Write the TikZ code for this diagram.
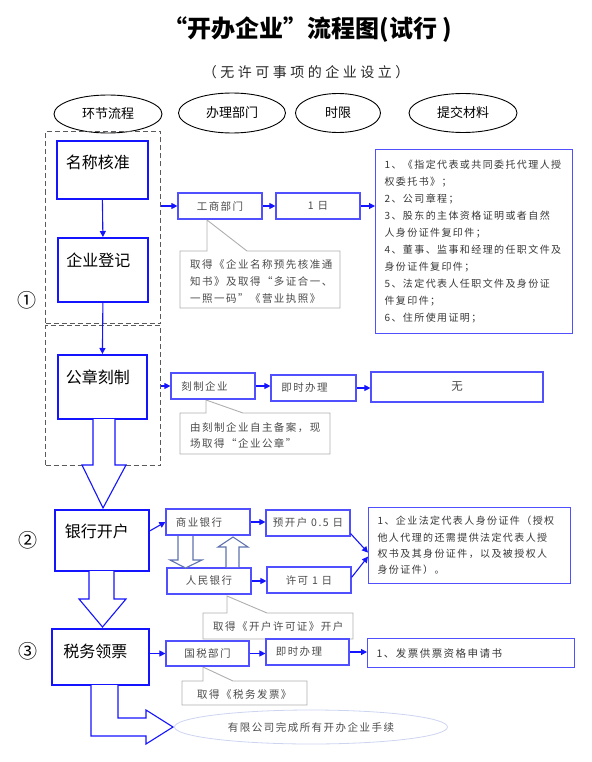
\documentclass[tikz,border=0pt]{standalone}
\usepackage{fontspec}
\setmainfont{Noto Sans CJK SC}
\newfontfamily\cjk{Noto Sans CJK SC}
\newfontfamily\cjksp[LetterSpace=14]{Noto Sans CJK SC}
\newfontfamily\cjksub[LetterSpace=25]{Noto Sans CJK SC}
\usetikzlibrary{arrows.meta,shapes.geometric,calc}
\definecolor{mainblue}{RGB}{20,20,255}
\definecolor{lightblue}{RGB}{80,80,255}
\definecolor{txtgray}{RGB}{75,75,75}
\definecolor{matgray}{RGB}{55,55,55}
\definecolor{callgray}{RGB}{175,175,175}
\definecolor{dashgray}{RGB}{90,90,90}
\definecolor{steel}{RGB}{95,115,175}
\definecolor{paleblue}{RGB}{205,212,240}
\begin{document}
\begin{tikzpicture}[x=1pt,y=-1pt,
  hdr/.style={ellipse, draw=black, line width=0.9pt, inner sep=0pt, font=\fontsize{13}{13}\selectfont\cjk},
  mainbox/.style={draw=mainblue, line width=1.8pt, anchor=north west, inner xsep=0pt, inner ysep=0pt, font=\fontsize{16}{16}\selectfont\cjk},
  smallbox/.style={draw=lightblue, line width=1.2pt, inner sep=0pt, font=\fontsize{10.5}{10.5}\selectfont\cjksp, text=txtgray},
  matbox/.style={draw=lightblue, line width=1.2pt, anchor=north west, align=left, inner ysep=0pt, inner xsep=9pt, text=matgray},
  dashbox/.style={draw=dashgray, dash pattern=on 5pt off 3pt, line width=1pt, anchor=north west, inner sep=0pt},
  arr/.style={draw=mainblue, line width=1.1pt, -{Triangle[length=6pt,width=6pt]}},
  blockarr/.style={draw=mainblue, line width=1.1pt, fill=white},
  steelarr/.style={draw=steel, line width=1.1pt, fill=white},
  callbox/.style={draw=callgray, line width=0.9pt, fill=white},
  calltext/.style={anchor=north west, align=left, inner sep=0pt, font=\fontsize{10.5}{17}\selectfont\cjksp, text=txtgray},
  circnum/.style={font=\fontsize{19}{19}\selectfont\cjk}
]
\useasboundingbox (0,0) rectangle (591,762);

% titles
\node[font=\fontsize{24}{24}\selectfont\bfseries\cjk] (title) at (308,30) {“开办企业”流程图(试行 )};
\node[font=\fontsize{14}{14}\selectfont\cjksub, text=black!85] (sub) at (306,72) {（无许可事项的企业设立）};

% header ellipses
\node[hdr, minimum width=108pt, minimum height=38pt] (h1) at (108,114) {环节流程};
\node[hdr, minimum width=107pt, minimum height=40pt] (h2) at (232,113) {办理部门};
\node[hdr, minimum width=85pt, minimum height=39pt] (h3) at (338,113) {时限};
\node[hdr, minimum width=108pt, minimum height=39pt] (h4) at (463,113) {提交材料};

% dashed groups
\node[dashbox, minimum width=115pt, minimum height=192pt] (d1) at (45,131) {};
\node[dashbox, minimum width=115pt, minimum height=140pt] (d2) at (45,325) {};

% main boxes
\node[mainbox, minimum width=91pt, text height=28pt, text depth=30pt] (m1) at (56,140) {\hspace*{-9pt}名称核准};
\node[mainbox, minimum width=90pt, text height=29pt, text depth=35pt] (m2) at (57,237) {\hspace*{-9pt}企业登记};
\node[mainbox, minimum width=89pt, text height=29pt, text depth=35pt] (m3) at (57,354) {\hspace*{-9pt}公章刻制};
\node[mainbox, minimum width=94pt, text height=28pt, text depth=33pt] (m4) at (54,509) {\hspace*{-10pt}银行开户};
\node[mainbox, minimum width=97pt, text height=29pt, text depth=27pt] (m5) at (51,628) {\hspace*{-10pt}税务领票};

% circled numbers
\node[circnum] (n1) at (27,300) {①};
\node[circnum] (n2) at (28,540) {②};
\node[circnum] (n3) at (28,651) {③};

% callouts
\draw[callbox] (180,251) -- (207,251) -- (207,220) -- (247,251) -- (340,251) -- (340,308) -- (180,308) -- cycle;
\node[calltext] (t1) at (190,259) {取得《企业名称预先核准通\\知书》及取得“多证合一、\\一照一码”《营业执照》};
\draw[callbox] (180,413) -- (206,413) -- (206,400) -- (243,413) -- (330,413) -- (330,454) -- (180,454) -- cycle;
\node[calltext, font=\fontsize{10.5}{16}\selectfont\cjksp] (t2) at (190,422) {由刻制企业自主备案，现\\场取得“企业公章”};
\draw[callbox] (203,613) -- (227,613) -- (227,596) -- (267,613) -- (353,613) -- (353,639) -- (203,639) -- cycle;
\node[calltext] (t3) at (213,621) {取得《开户许可证》开户};
\draw[callbox] (182,681) -- (203,681) -- (203,667) -- (233,681) -- (307,681) -- (307,705) -- (182,705) -- cycle;
\node[calltext] (t4) at (197,689) {取得《税务发票》};

% small boxes
\node[smallbox, minimum width=84pt, minimum height=26pt] (gs) at (220,206) {工商部门};
\node[smallbox, minimum width=84pt, minimum height=26pt] (r1) at (318,206) {1 日};
\node[matbox, minimum width=197pt, minimum height=184pt, text width=179pt, font=\fontsize{10}{16.9}\selectfont\cjksp] (mat1) at (375,149) {1、《指定代表或共同委托代理人授\\权委托书》；\\2、公司章程；\\3、股东的主体资格证明或者自然\\人身份证件复印件；\\4、董事、监事和经理的任职文件及\\身份证件复印件；\\5、法定代表人任职文件及身份证\\件复印件；\\6、住所使用证明；};

\node[smallbox, minimum width=84pt, minimum height=26pt] (kz) at (213,386) {\hspace*{-17pt}刻制企业};
\node[smallbox, minimum width=85pt, minimum height=26pt] (js1) at (313.5,388) {\hspace*{-18pt}即时办理};
\node[smallbox, minimum width=172pt, minimum height=30pt, font=\fontsize{11.5}{11.5}\selectfont\cjk] (wu) at (457,387) {无};

\node[smallbox, minimum width=84pt, minimum height=26pt] (sy) at (208,522) {\hspace*{-18pt}商业银行};
\node[smallbox, minimum width=84pt, minimum height=26pt] (yk) at (308,523) {预开户 0.5 日};
\node[smallbox, minimum width=84pt, minimum height=26pt] (rm) at (209,581) {人民银行};
\node[smallbox, minimum width=84pt, minimum height=26pt] (xk) at (309,580) {许可 1 日};
\node[matbox, minimum width=202pt, minimum height=76pt, text width=184pt, font=\fontsize{10}{16.3}\selectfont\cjksp] (mat2) at (368,507) {1、企业法定代表人身份证件（授权\\他人代理的还需提供法定代表人授\\权书及其身份证件，以及被授权人\\身份证件）。};

\node[smallbox, minimum width=83pt, minimum height=25pt] (gsb) at (207.5,653.5) {国税部门};
\node[smallbox, minimum width=83pt, minimum height=26pt] (js2) at (307.5,652) {\hspace*{-17pt}即时办理};
\node[matbox, minimum width=207pt, minimum height=29pt, text width=189pt, font=\fontsize{10.5}{10.5}\selectfont\cjksp] (fp) at (367,638) {1、发票供票资格申请书};

% arrows
\draw[arr] (m1.south) -- (m2.north);
\draw[arr] (m2.south) -- (m3.north);
\draw[arr] (d1.east |- gs.west) -- (gs.west);
\draw[arr] (gs.east) -- (r1.west);
\draw[arr] (r1.east) -- (r1.east -| mat1.west);
\draw[arr] (d2.east |- kz.west) -- (kz.west);
\draw[arr] (kz.east) -- (kz.east -| js1.west);
\draw[arr] (js1.east) -- (js1.east -| wu.west);
\draw[arr] ([yshift=9.5pt]m4.east) -- (sy.west);
\draw[arr] (sy.east) -- (sy.east -| yk.west);
\draw[arr] (rm.east) -- (rm.east -| xk.west);
\draw[arr] ([yshift=3pt]yk.south east) -- ([yshift=-7pt]mat2.west);
\draw[arr] ([yshift=-11pt]xk.north east) -- ([yshift=-11pt]mat2.west);
\draw[arr] (m5.east |- gsb.west) -- (gsb.west);
\draw[arr] (gsb.east) -- (gsb.east -| js2.west);
\draw[arr] (js2.east) -- (js2.east -| fp.west);

% block arrows
\draw[blockarr] (93,419) -- (93,465) -- (82,465) -- (103,508) -- (126,465) -- (115,465) -- (115,419);
\draw[blockarr] (89,571) -- (89,599) -- (79,599) -- (102.5,627) -- (126,599) -- (114,599) -- (114,571);
\draw[blockarr] (91,685) -- (91,736) -- (146,736) -- (146,744) -- (173,727) -- (146,710) -- (146,718) -- (118,718) -- (118,685);

% bank hollow arrows
\draw[steelarr] (178,536) -- (178,560) -- (170,560) -- (185.5,568) -- (202,560) -- (193,560) -- (193,536);
\draw[steelarr] (226,567) -- (226,547) -- (218,547) -- (233,537) -- (248,547) -- (239,547) -- (239,567);

% final
\node[ellipse, draw=paleblue, line width=0.8pt, minimum width=273pt, minimum height=34pt, inner sep=0pt, font=\fontsize{10.5}{10.5}\selectfont\cjksp, text=txtgray] (fe) at (311,727) {有限公司完成所有开办企业手续};
\end{tikzpicture}
\end{document}
